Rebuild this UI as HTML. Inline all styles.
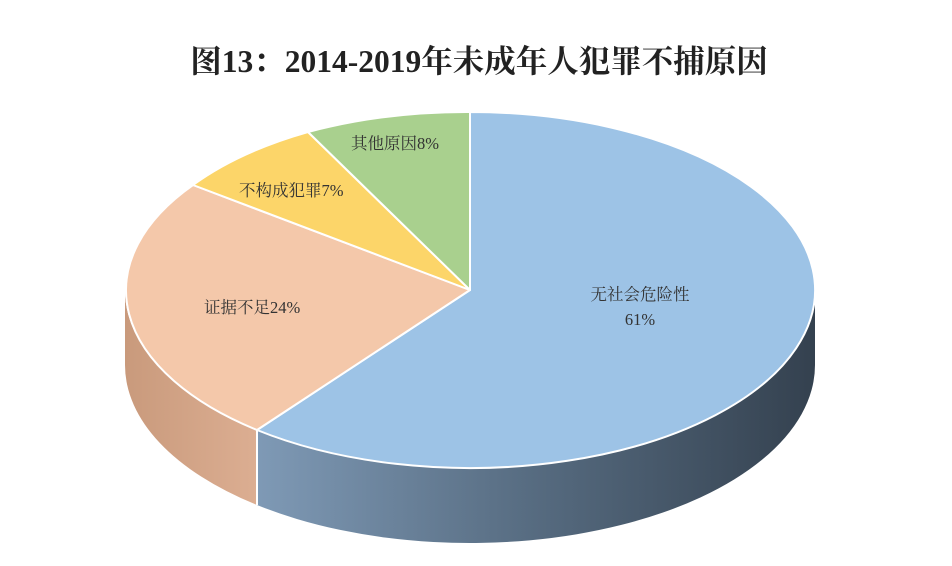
<!DOCTYPE html>
<html><head><meta charset="utf-8"><style>
html,body{margin:0;padding:0;background:#fff;width:952px;height:566px;overflow:hidden}
</style></head><body>
<svg width="952" height="566" viewBox="0 0 952 566" xmlns="http://www.w3.org/2000/svg">
<defs>
<linearGradient id="gb" x1="255" y1="0" x2="815" y2="0" gradientUnits="userSpaceOnUse">
<stop offset="0" stop-color="#7f9ab6"/><stop offset="0.5" stop-color="#566b80"/><stop offset="1" stop-color="#34414f"/></linearGradient>
<linearGradient id="gp" x1="125" y1="0" x2="258" y2="0" gradientUnits="userSpaceOnUse">
<stop offset="0" stop-color="#c99a7c"/><stop offset="1" stop-color="#dcae92"/></linearGradient>
</defs>
<text x="479" y="72" text-anchor="middle" font-family="'Liberation Serif','Noto Serif CJK SC',serif" font-weight="bold" font-size="31.5" fill="#222">图13：2014-2019年未成年人犯罪不捕原因</text>
<path d="M125,290 A345,178 0 0 0 257,430 L257,505 A345,178 0 0 1 125,365 Z" fill="url(#gp)"/>
<path d="M257,430 A345,178 0 0 0 815,290 L815,365 A345,178 0 0 1 257,505 Z" fill="url(#gb)"/>
<line x1="257" y1="430" x2="257" y2="505" stroke="#fff" stroke-width="2"/>
<g stroke="#fff" stroke-width="2" stroke-linejoin="round">
<path d="M470,290 L470,112 A345,178 0 1 1 257,430 Z" fill="#9dc3e6"/>
<path d="M470,290 L257,430 A345,178 0 0 1 193,185 Z" fill="#f4c8aa"/>
<path d="M470,290 L193,185 A345,178 0 0 1 308,132 Z" fill="#fcd569"/>
<path d="M470,290 L308,132 A345,178 0 0 1 470,112 Z" fill="#a9d08e"/>
</g>
<g font-family="'Liberation Serif','Noto Serif CJK SC',serif" font-size="16.5" fill="#333">
<text x="640" y="300" text-anchor="middle">无社会危险性</text>
<text x="640" y="325" text-anchor="middle">61%</text>
<text x="204" y="313">证据不足24%</text>
<text x="239" y="196">不构成犯罪7%</text>
<text x="351" y="149">其他原因8%</text>
</g>
</svg>
</body></html>
